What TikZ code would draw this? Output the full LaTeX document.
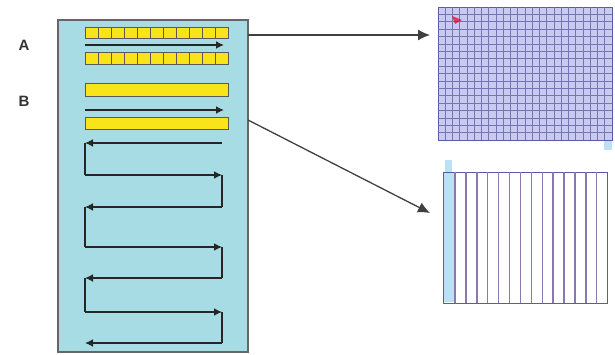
\documentclass[tikz,border=0pt]{standalone}
\usepackage{fontspec}
\setmainfont{Liberation Sans}
\usetikzlibrary{arrows.meta}
\definecolor{panelblue}{HTML}{A8DCE4}
\definecolor{barY}{HTML}{F8E418}
\definecolor{gridfill}{HTML}{C8CAF0}
\definecolor{gridline}{HTML}{5A5CA8}
\definecolor{stripline}{HTML}{8A78B0}
\definecolor{striplite}{HTML}{BCE0F4}
\tikzset{
  flow/.style={draw=black!85, line width=2.6pt, -{Latex[length=8pt,width=8pt]}},
  link/.style={draw=black!85, line width=1.1pt},
  ybar/.style={draw=black!65, fill=barY, line width=1pt},
  callout/.style={draw=black!75, line width=1.3pt, -{Latex[length=12pt,width=11pt]}},
  lab/.style={font=\bfseries\fontsize{15}{15}\selectfont, text=black!80}
}
\begin{document}
\begin{tikzpicture}[x=1pt,y=-1pt]
\useasboundingbox (0,0) rectangle (615,355);
% left panel
\node[draw=black!60, fill=panelblue, line width=1.2pt, minimum width=190pt, minimum height=332pt, inner sep=0pt] (panel) at (153,186) {};
\node[lab] (la) at (24,45) {A};
\node[lab] (lb) at (24,101) {B};
% row A: squares
\foreach \i in {0,...,10} {
  \draw[ybar] ({85+\i*13},28) rectangle ({85+(\i+1)*13},39);
  \draw[ybar] ({85+\i*13},53) rectangle ({85+(\i+1)*13},65);
}
\coordinate (a1) at (85,45);
\coordinate (a2) at (224,45);
\draw[flow] (a1) -- (a2);
% row B: bars
\draw[ybar] (85,84) rectangle (228,97);
\draw[ybar] (85,118) rectangle (228,130);
\coordinate (b1) at (85,110);
\coordinate (b2) at (224,110);
\draw[flow] (b1) -- (b2);
% zigzag
\foreach \n/\y in {1/143,2/175,3/207,4/247,5/278,6/312,7/343} {
  \coordinate (zl\n) at (85,\y);
  \coordinate (zr\n) at (222,\y);
}
\draw[flow] (zr1) -- (zl1);
\draw[flow] (zl2) -- (zr2);
\draw[flow] (zr3) -- (zl3);
\draw[flow] (zl4) -- (zr4);
\draw[flow] (zr5) -- (zl5);
\draw[flow] (zl6) -- (zr6);
\draw[flow] (zr7) -- (zl7);
\draw[link] (zl1) -- (zl2);
\draw[link] (zr2) -- (zr3);
\draw[link] (zl3) -- (zl4);
\draw[link] (zr4) -- (zr5);
\draw[link] (zl5) -- (zl6);
\draw[link] (zr6) -- (zr7);
% top right grid
\node[draw=gridline, fill=gridfill, line width=1.4pt, minimum width=174pt, minimum height=133pt, inner sep=0pt, anchor=north west] (grid) at (438,7) {};
\foreach \k in {1,...,23} \draw[gridline!85, line width=0.8pt] ({438+\k*7.25},7) -- ({438+\k*7.25},140);
\foreach \k in {1,...,17} \draw[gridline!85, line width=0.8pt] (438,{7+\k*7.4}) -- (612,{7+\k*7.4});
\fill[red!60!purple, opacity=0.7] (452,16) -- (462,20) -- (455,24) -- cycle;
\fill[striplite] (604,141) rectangle (612,150);
% bottom right strips
\node[draw=gridline, fill=white, line width=1.2pt, minimum width=164pt, minimum height=131pt, inner sep=0pt, anchor=north west] (strips) at (443,172) {};
\fill[striplite] (443.6,172.6) rectangle (455,302.4);
\foreach \k in {0,...,13} \draw[stripline, line width=1.4pt] ({455+\k*10.9},172) -- ({455+\k*10.9},303);
\fill[striplite] (445,160) rectangle (452,172);
% callouts
\coordinate (c1) at (248,35);
\coordinate (c1e) at (430,35);
\coordinate (c2) at (248,120);
\coordinate (c2e) at (430,213);
\draw[callout] (c1) -- (c1e);
\draw[callout] (c2) -- (c2e);
\end{tikzpicture}
\end{document}
